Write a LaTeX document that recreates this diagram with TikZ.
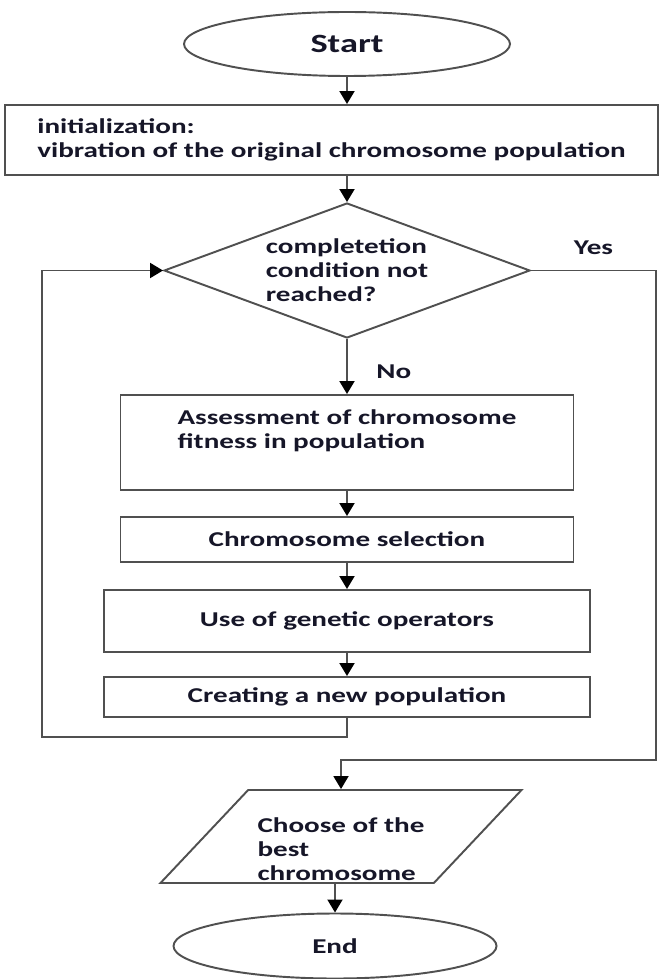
\documentclass[tikz,border=0pt]{standalone}
\usepackage{fontspec}
\setmainfont{Carlito}[FakeStretch=1.38]
\usetikzlibrary{shapes.geometric, arrows.meta, positioning}

\definecolor{tinta}{RGB}{22,22,40}
\definecolor{trazo}{RGB}{80,80,80}

\begin{document}
\begin{tikzpicture}[
            caja/.style={rectangle, draw=trazo, line width=1.1pt, fill=white, align=left, text=tinta, font=\fontsize{12}{13.7}\selectfont\bfseries},
            rombo/.style={diamond, draw=trazo, line width=1.1pt, fill=white, aspect=2.7, inner sep=0pt, align=left, text=tinta, font=\fontsize{12}{13.7}\selectfont\bfseries},
            elipse/.style={ellipse, draw=trazo, line width=1.1pt, fill=white, text=tinta, font=\fontsize{12}{13.7}\selectfont\bfseries},
            datos/.style={trapezium, trapezium left angle=45, trapezium right angle=135, trapezium stretches body, draw=trazo, line width=1.1pt, fill=white, align=left, text=tinta, font=\fontsize{12}{13.7}\selectfont\bfseries},
            etiqueta/.style={text=tinta, font=\fontsize{12}{13.7}\selectfont\bfseries},
            flecha/.style={draw=trazo, line width=1.1pt, -{Triangle[width=0.3cm, length=0.26cm, color=black]}}]

            \useasboundingbox (0,0) rectangle (13.2,-19.58);

            \node[elipse, minimum width=6.52cm, minimum height=1.28cm, font=\fontsize{15}{18}\selectfont\bfseries] (S) at (6.94,-0.88) {Start};
            \node[caja, minimum width=13.06cm, minimum height=1.40cm] (I) at (6.63,-2.80) {initialization:\\vibration of the original chromosome population};
            \node[rombo, minimum width=7.32cm, minimum height=2.70cm] (C) at (6.94,-5.41) {completetion\\condition not\\reached?};
            \node[caja, minimum width=9.06cm, minimum height=1.90cm, text depth=0.52cm] (A) at (6.94,-8.85) {Assessment of chromosome\\fitness in population};
            \node[caja, minimum width=9.06cm, minimum height=0.90cm] (Se) at (6.94,-10.79) {Chromosome selection};
            \node[caja, minimum width=9.72cm, minimum height=1.24cm] (G) at (6.94,-12.42) {Use of genetic operators};
            \node[caja, minimum width=9.72cm, minimum height=0.80cm] (N) at (6.94,-13.94) {Creating a new population};
            \node[datos, minimum width=7.22cm, minimum height=1.86cm, inner ysep=0pt, text height=1.75cm] (B) at (6.82,-16.73) {Choose of the\\best\\chromosome};
            \node[elipse, minimum width=6.46cm, minimum height=1.30cm] (E) at (6.70,-18.92) {End};

            \coordinate (lazo) at (0.84,-14.74);
            \coordinate (si) at (13.12,-15.20);

            \draw[flecha] (S.south) -- (S.south |- I.north);
            \draw[flecha] (I.south -| C.north) -- (C.north);
            \draw[flecha] (C.south) -- node[etiqueta, pos=0.6, right=0.45cm] {No} (A.north);
            \draw[flecha] (A.south) -- (Se.north);
            \draw[flecha] (Se.south) -- (G.north);
            \draw[flecha] (G.south) -- (N.north);
            \draw[flecha] (N.south) |- (lazo) |- (C.west);
            \draw[flecha] (C.east) -| node[etiqueta, pos=0.25, above=0.18cm] {Yes} (si) -| (B.north);
            \draw[flecha] (B.south -| E.north) -- (E.north);
        \end{tikzpicture}
\end{document}
